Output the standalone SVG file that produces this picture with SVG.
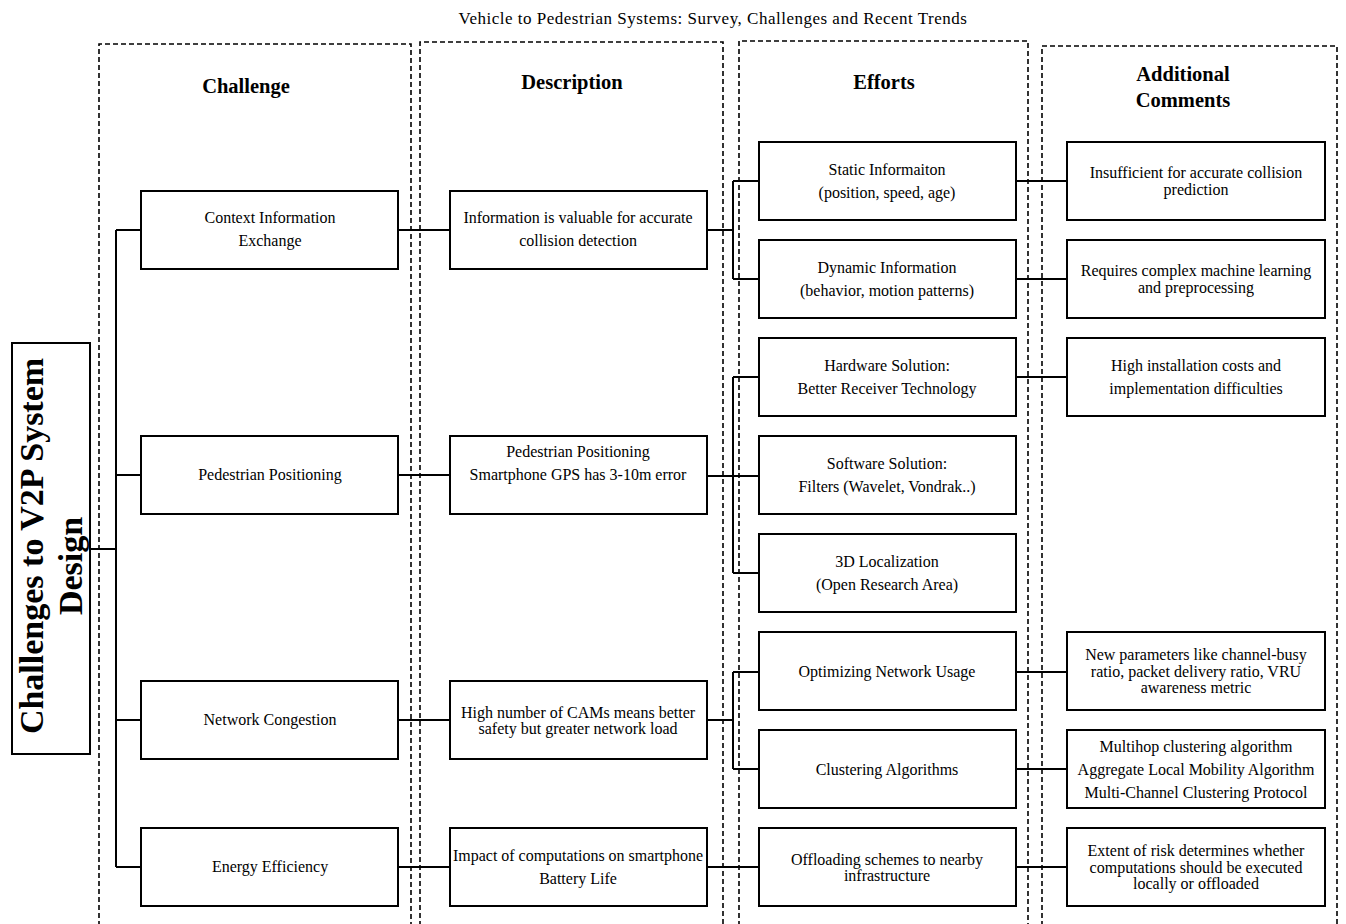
<svg xmlns="http://www.w3.org/2000/svg" width="1346" height="924" viewBox="0 0 1346 924">
<style>
.col{fill:none;stroke:#000;stroke-width:1.6;stroke-dasharray:5 3}
.box{fill:#fff;stroke:#000;stroke-width:2}
.t{font-family:"Liberation Serif","Times New Roman",serif;font-size:16px;fill:#000;text-anchor:middle}
.title{font-family:"Liberation Serif","Times New Roman",serif;font-size:17px;letter-spacing:0.5px;fill:#000;text-anchor:middle}
.h{font-family:"Liberation Serif","Times New Roman",serif;font-size:20.5px;font-weight:bold;fill:#000;text-anchor:middle}
.big{font-family:"Liberation Serif","Times New Roman",serif;font-size:34px;font-weight:bold;fill:#000;text-anchor:middle}
.c{fill:none;stroke:#000;stroke-width:2}
</style>
<rect width="1346" height="924" fill="#fff"/>
<text class="title" x="713" y="24">Vehicle to Pedestrian Systems: Survey, Challenges and Recent Trends</text>
<g id="columns">
<path class="col" d="M99,926 V44 H411 V926"/>
<path class="col" d="M420,926 V42 H723 V926"/>
<path class="col" d="M739,926 V41 H1028 V926"/>
<path class="col" d="M1042,926 V46 H1337 V926"/>
<text class="h" x="246" y="93">Challenge</text>
<text class="h" x="572" y="89">Description</text>
<text class="h" x="884" y="89">Efforts</text>
<text class="h" x="1183" y="81">Additional</text>
<text class="h" x="1183" y="107">Comments</text>
</g>
<g id="connectors">
<path class="c" d="M90,549 H116 M116,230 V867 M116,230 H141 M116,475 H141 M116,720 H141 M116,867 H141"/>
<path class="c" d="M398,230 H450 M398,475 H450 M398,720 H450 M398,867 H450"/>
<path class="c" d="M707,230 H733 M733,181 V279 M733,181 H759 M733,279 H759"/>
<path class="c" d="M707,476 H759 M733,377 V573 M733,377 H759 M733,573 H759"/>
<path class="c" d="M707,720 H733 M733,672 V769 M733,672 H759 M733,769 H759"/>
<path class="c" d="M707,867 H759"/>
<path class="c" d="M1016,181 H1067 M1016,279 H1067 M1016,377 H1067 M1016,672 H1067 M1016,769 H1067 M1016,867 H1067"/>
</g>
<g id="root">
<rect class="box" x="12" y="343" width="78" height="411"/>
<text class="big" transform="translate(43,546) rotate(-90)">Challenges to V2P System</text>
<text class="big" transform="translate(82,566) rotate(-90)">Design</text>
</g>
<g id="ch-context"><rect class="box" x="141" y="191" width="257" height="78"/><text class="t" x="270" y="223">Context Information</text><text class="t" x="270" y="246">Exchange</text></g>
<g id="ch-ped"><rect class="box" x="141" y="436" width="257" height="78"/><text class="t" x="270" y="480">Pedestrian Positioning</text></g>
<g id="ch-net"><rect class="box" x="141" y="681" width="257" height="78"/><text class="t" x="270" y="725">Network Congestion</text></g>
<g id="ch-energy"><rect class="box" x="141" y="828" width="257" height="78"/><text class="t" x="270" y="872">Energy Efficiency</text></g>
<g id="de-info"><rect class="box" x="450" y="191" width="257" height="78"/><text class="t" x="578" y="223">Information is valuable for accurate</text><text class="t" x="578" y="246">collision detection</text></g>
<g id="de-ped"><rect class="box" x="450" y="436" width="257" height="78"/><text class="t" x="578" y="457">Pedestrian Positioning</text><text class="t" x="578" y="480">Smartphone GPS has 3-10m error</text></g>
<g id="de-net"><rect class="box" x="450" y="681" width="257" height="78"/><text class="t" x="578" y="718">High number of CAMs means better</text><text class="t" x="578" y="734">safety but greater network load</text></g>
<g id="de-energy"><rect class="box" x="450" y="828" width="257" height="78"/><text class="t" x="578" y="861" textLength="250" lengthAdjust="spacingAndGlyphs">Impact of computations on smartphone</text><text class="t" x="578" y="884">Battery Life</text></g>
<g id="ef-static"><rect class="box" x="759" y="142" width="257" height="78"/><text class="t" x="887" y="175">Static Informaiton</text><text class="t" x="887" y="198">(position, speed, age)</text></g>
<g id="ef-dynamic"><rect class="box" x="759" y="240" width="257" height="78"/><text class="t" x="887" y="273">Dynamic Information</text><text class="t" x="887" y="296">(behavior, motion patterns)</text></g>
<g id="ef-hardware"><rect class="box" x="759" y="338" width="257" height="78"/><text class="t" x="887" y="371">Hardware Solution:</text><text class="t" x="887" y="394">Better Receiver Technology</text></g>
<g id="ef-software"><rect class="box" x="759" y="436" width="257" height="78"/><text class="t" x="887" y="469">Software Solution:</text><text class="t" x="887" y="492">Filters (Wavelet, Vondrak..)</text></g>
<g id="ef-3d"><rect class="box" x="759" y="534" width="257" height="78"/><text class="t" x="887" y="567">3D Localization</text><text class="t" x="887" y="590">(Open Research Area)</text></g>
<g id="ef-opt"><rect class="box" x="759" y="632" width="257" height="78"/><text class="t" x="887" y="677">Optimizing Network Usage</text></g>
<g id="ef-cluster"><rect class="box" x="759" y="730" width="257" height="78"/><text class="t" x="887" y="775">Clustering Algorithms</text></g>
<g id="ef-offload"><rect class="box" x="759" y="828" width="257" height="78"/><text class="t" x="887" y="865">Offloading schemes to nearby</text><text class="t" x="887" y="881">infrastructure</text></g>
<g id="co-insuff"><rect class="box" x="1067" y="142" width="258" height="78"/><text class="t" x="1196" y="178">Insufficient for accurate collision</text><text class="t" x="1196" y="195">prediction</text></g>
<g id="co-requires"><rect class="box" x="1067" y="240" width="258" height="78"/><text class="t" x="1196" y="276">Requires complex machine learning</text><text class="t" x="1196" y="293">and preprocessing</text></g>
<g id="co-install"><rect class="box" x="1067" y="338" width="258" height="78"/><text class="t" x="1196" y="371">High installation costs and</text><text class="t" x="1196" y="394">implementation difficulties</text></g>
<g id="co-params"><rect class="box" x="1067" y="632" width="258" height="78"/><text class="t" x="1196" y="660">New parameters like channel-busy</text><text class="t" x="1196" y="677">ratio, packet delivery ratio, VRU</text><text class="t" x="1196" y="693">awareness metric</text></g>
<g id="co-multihop"><rect class="box" x="1067" y="730" width="258" height="78"/><text class="t" x="1196" y="752">Multihop clustering algorithm</text><text class="t" x="1196" y="775">Aggregate Local Mobility Algorithm</text><text class="t" x="1196" y="798">Multi-Channel Clustering Protocol</text></g>
<g id="co-extent"><rect class="box" x="1067" y="828" width="258" height="78"/><text class="t" x="1196" y="856">Extent of risk determines whether</text><text class="t" x="1196" y="873">computations should be executed</text><text class="t" x="1196" y="889">locally or offloaded</text></g>
</svg>
